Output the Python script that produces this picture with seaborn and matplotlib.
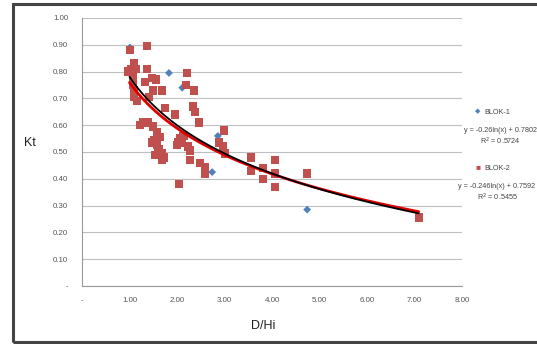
import numpy as np
import pandas as pd
import matplotlib
matplotlib.use("Agg")
import matplotlib.pyplot as plt
import seaborn as sns
from matplotlib.patches import Rectangle
from matplotlib.ticker import FuncFormatter

# ---- data ----
blok2_x = [1.01, 0.97, 1.03, 1.09, 1.14, 1.07, 1.07, 1.09, 1.09, 1.16,
           1.37, 1.37, 1.47, 1.56, 1.49, 1.68, 1.41, 1.75, 1.96, 1.28,
           1.39, 1.49, 1.58, 1.64, 1.47, 1.58, 1.62, 1.68, 1.68, 2.06,
           2.11, 2.02, 2.23, 2.04, 2.21, 2.19, 2.36, 2.34, 2.38, 2.46,
           2.27, 2.27, 2.48, 2.59, 2.59, 2.99, 2.88, 2.97, 3.01, 3.56,
           3.56, 3.81, 3.81, 4.06, 4.06, 4.06, 4.74, 7.09,
           1.22, 1.55, 1.72, 1.52, 2.00, 1.33, 1.60, 2.14]
blok2_y = [0.88, 0.80, 0.81, 0.83, 0.81, 0.78, 0.75, 0.73, 0.705, 0.69,
           0.895, 0.81, 0.775, 0.77, 0.73, 0.73, 0.705, 0.665, 0.64, 0.61,
           0.61, 0.595, 0.575, 0.555, 0.535, 0.525, 0.51, 0.495, 0.47, 0.55,
           0.535, 0.535, 0.52, 0.38, 0.795, 0.75, 0.73, 0.67, 0.65, 0.61,
           0.505, 0.47, 0.46, 0.445, 0.42, 0.58, 0.535, 0.52, 0.495, 0.48,
           0.43, 0.44, 0.40, 0.47, 0.42, 0.37, 0.42, 0.255,
           0.60, 0.49, 0.48, 0.545, 0.525, 0.76, 0.50, 0.56]
blok1_x = [1.01, 1.08, 1.42, 1.83, 2.11, 2.74, 2.86, 4.74]
blok1_y = [0.89, 0.76, 0.70, 0.795, 0.74, 0.425, 0.56, 0.285]

# trendline coefficients shown on the chart: y = a*ln(x) + b
trend1 = (-0.26, 0.7802)
trend2 = (-0.246, 0.7592)
x_ticks = [0, 1, 2, 3, 4, 5, 6, 7, 8]
y_ticks = [0.0, 0.1, 0.2, 0.3, 0.4, 0.5, 0.6, 0.7, 0.8, 0.9, 1.0]

sns.set_theme(style="white")
plt.rcParams['font.family'] = ['Liberation Sans', 'DejaVu Sans']

fig = plt.figure(figsize=(5.37, 3.44), dpi=100)
ax = fig.add_axes([82/537, 1-286/344, (462-82)/537, (286-18)/344])

red = "#C0504D"
blue = "#4F81BD"

df2 = pd.DataFrame({"x": blok2_x, "y": blok2_y})
df1 = pd.DataFrame({"x": blok1_x, "y": blok1_y})

sns.scatterplot(data=df1, x="x", y="y", ax=ax, marker="D", s=16,
                color=blue, edgecolor="none", zorder=3)
sns.scatterplot(data=df2, x="x", y="y", ax=ax, marker="s", s=36,
                color=red, edgecolor="none", zorder=4)

xmax = max(max(blok1_x), max(blok2_x))
xs = np.linspace(1.0, xmax, 200)
t2 = pd.DataFrame({"x": xs, "y": trend2[0]*np.log(xs) + trend2[1]})
t1 = pd.DataFrame({"x": xs, "y": trend1[0]*np.log(xs) + trend1[1]})
sns.lineplot(data=t2, x="x", y="y", ax=ax, color="#E00000", lw=2.0, zorder=5)
sns.lineplot(data=t1, x="x", y="y", ax=ax, color="black", lw=1.3, zorder=6)

ax.set_xlim(0, 8)
ax.set_ylim(0, 1.0)
ax.set_xticks(x_ticks)
ax.set_yticks(y_ticks)
fmt = FuncFormatter(lambda v, p: "-" if abs(v) < 1e-9 else f"{v:.2f}")
ax.xaxis.set_major_formatter(fmt)
ax.yaxis.set_major_formatter(fmt)
ax.tick_params(axis="both", labelsize=5.7, colors="#555555", length=3,
               width=0.6, direction="out")
ax.tick_params(axis="x", pad=5)
ax.tick_params(axis="y", pad=7)
ax.yaxis.grid(True, color="#BFBFBF", lw=0.8)
ax.xaxis.grid(False)
for s in ["top", "right"]:
    ax.spines[s].set_visible(False)
for s in ["left", "bottom"]:
    ax.spines[s].set_color("#999999")
    ax.spines[s].set_linewidth(0.8)
ax.set_xlabel("")
ax.set_ylabel("")

fig.text(263/537, 1-326/344, "D/Hi", fontsize=9, ha="center", va="center", color="#222222")
fig.text(30/537, 1-143/344, "Kt", fontsize=9, ha="center", va="center", color="#222222")

# legend / equation text at right
fs = 5.2
fig.text(478/537, 1-112/344, "\u25C6", fontsize=5, color=blue, ha="center", va="center")
fig.text(484/537, 1-112/344, "BLOK-1", fontsize=fs, color="#444444", ha="left", va="center")
fig.text(500/537, 1-130/344, "y = -0.26ln(x) + 0.7802", fontsize=fs, color="#444444", ha="center", va="center")
fig.text(500/537, 1-141/344, "R$^2$ = 0.5724", fontsize=fs, color="#444444", ha="center", va="center")
fig.text(478/537, 1-168/344, "\u25A0", fontsize=6, color=red, ha="center", va="center")
fig.text(484/537, 1-168/344, "BLOK-2", fontsize=fs, color="#444444", ha="left", va="center")
fig.text(497/537, 1-186/344, "y = -0.246ln(x) + 0.7592", fontsize=fs, color="#444444", ha="center", va="center")
fig.text(497/537, 1-197/344, "R$^2$ = 0.5455", fontsize=fs, color="#444444", ha="center", va="center")

# outer frame
fig.patches.append(Rectangle((13/537, 2/344), 1.2, 1-6/344, transform=fig.transFigure,
                             fill=False, edgecolor="#444444", lw=2.2))

fig.savefig("out.png", dpi=100)
